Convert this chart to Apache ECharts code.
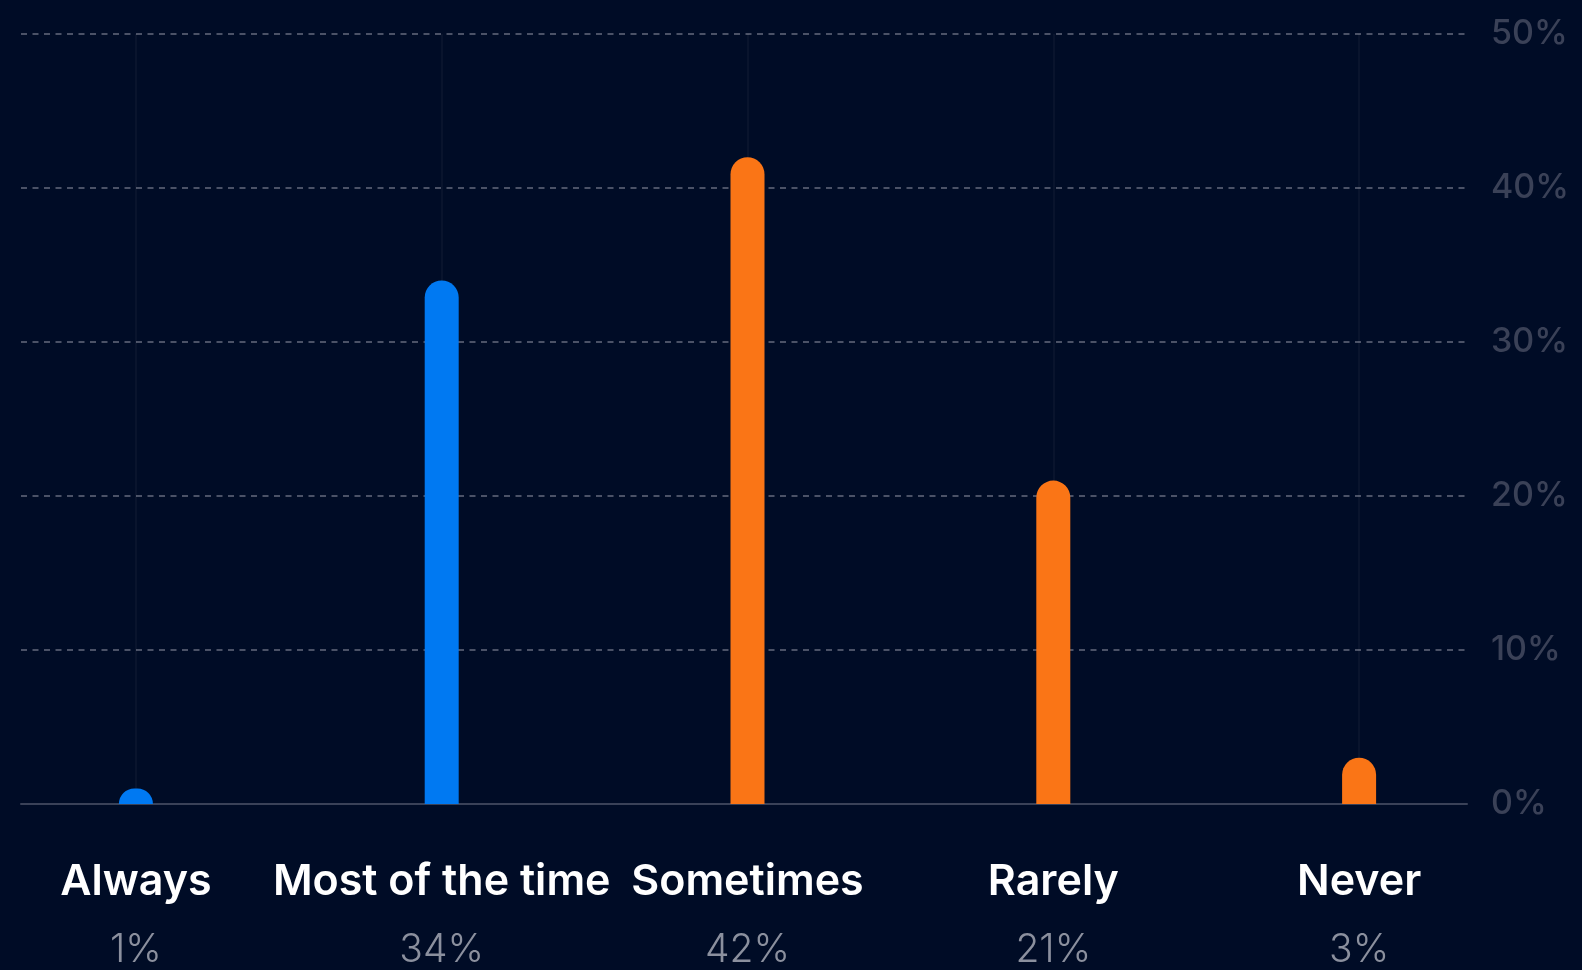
<!DOCTYPE html>
<html>
<head>
<meta charset="utf-8">
<script src="https://cdn.jsdelivr.net/npm/echarts@6/dist/echarts.min.js"></script>
<style>
	html, body { margin: 0; padding: 0; background: #000c26; }
	#chart { width: 1582px; height: 970px; }
</style>
</head>
<body>
<div id="chart"></div>
<script>
var categories = ['Always', 'Most of the time', 'Sometimes', 'Rarely', 'Never'];
var shares = [1, 34, 42, 21, 3];
var barColors = ['#0079f2', '#0079f2', '#fa7516', '#fa7516', '#fa7516'];
var yTicks = [0, 10, 20, 30, 40, 50];

var chart = echarts.init(document.getElementById('chart'));

var option = {
	backgroundColor: '#000c26',
	animation: false,
	grid: [
		// frame: gridlines, base line, right labels
		{ left: 21, right: 115, top: 34, bottom: 166, outerBoundsMode: 'none' },
		// bars, wider so first/last bar land under the labels
		{ left: -17, width: 1529, top: 34, bottom: 166, outerBoundsMode: 'none' }
	],
	xAxis: [
		{
			type: 'category', gridIndex: 0, data: categories,
			axisLine: { lineStyle: { color: '#3a4258', width: 2 } },
			axisTick: { show: false },
			axisLabel: { show: false }
		},
		{
			type: 'category', gridIndex: 1, data: categories,
			axisLine: { show: false },
			axisTick: {
				show: true, alignWithLabel: true, inside: true, length: 770,
				lineStyle: { color: 'rgba(255,255,255,0.035)', width: 2 }
			},
			axisLabel: {
				margin: 44,
				formatter: function (v, i) {
					return '{a|' + v + '}\n{b|' + shares[i] + '%}';
				},
				rich: {
					a: { fontFamily: 'Inter', fontSize: 43, fontWeight: 600, color: '#ffffff', lineHeight: 68 },
					b: { fontFamily: 'Inter', fontSize: 39, fontWeight: 300, color: '#8b909e', lineHeight: 68 }
				}
			}
		}
	],
	yAxis: [
		{
			type: 'value', gridIndex: 0, position: 'right',
			min: yTicks[0], max: yTicks[yTicks.length - 1], interval: yTicks[1] - yTicks[0],
			axisLine: { show: false },
			axisTick: { show: false },
			splitLine: { lineStyle: { color: '#4b5267', width: 2, type: [6, 5.5] } },
			axisLabel: {
				formatter: '{value}%', align: 'left', margin: 24,
				fontFamily: 'Inter', fontSize: 34, fontWeight: 500, color: '#3a4157',
				padding: [0, 0, 10, 0]
			}
		},
		{
			type: 'value', gridIndex: 1, show: false,
			min: yTicks[0], max: yTicks[yTicks.length - 1]
		}
	],
	series: [
		{
			type: 'bar', xAxisIndex: 1, yAxisIndex: 1,
			barWidth: 34,
			data: shares.map(function (v, i) {
				return { value: v, itemStyle: { color: barColors[i] } };
			}),
			itemStyle: { borderRadius: [17, 17, 0, 0] }
		}
	]
};

chart.setOption(option);
</script>
</body>
</html>
